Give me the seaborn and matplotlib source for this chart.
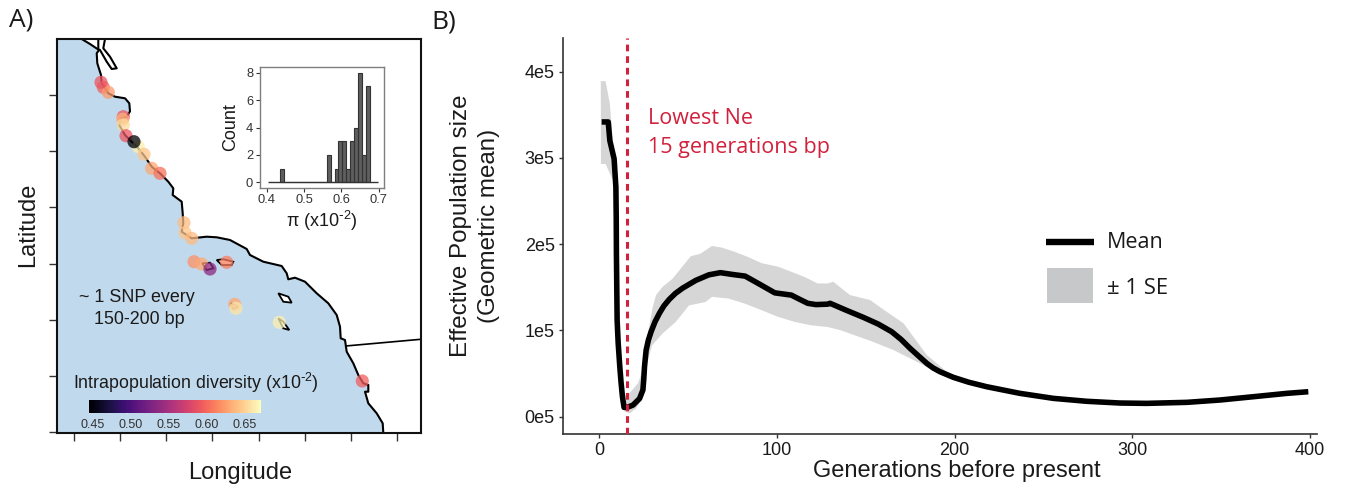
import numpy as np
import pandas as pd
import seaborn as sns
import matplotlib.pyplot as plt
from matplotlib.cm import ScalarMappable
from matplotlib.colors import Normalize
from matplotlib.lines import Line2D
from matplotlib.patches import Rectangle
from matplotlib.transforms import ScaledTranslation

sns.set_theme(style='ticks')
plt.rcParams['font.family'] = ['Liberation Sans', 'DejaVu Sans']
plt.rcParams['mathtext.default'] = 'regular'
plt.rcParams['axes.unicode_minus'] = False

W, H = 1352, 491
TEXT = '#1a1a1a'
RED = '#d2213c'

# map, in grid units from the lower left corner of the frame
coast_x = [24.7, 33, 42, 39.7, 40.3, 44, 44.7, 51.3, 58, 68, 72.3, 73, 69.7, 64.7, 62.3, 68, 76.3, 81.3,
           88, 94.7, 103, 111.3, 116.3, 115.7, 124.7, 125.7, 126.3, 124.7, 134.7, 149.7, 159.7, 173,
           189.7, 193, 206.3, 224.7, 229.7, 231.3, 238, 248, 259.7, 271.3, 279.7, 283, 283.7, 288,
           289.7, 296.3, 301.3, 306.3, 311.3, 311.3, 308, 311.3, 319.7, 325.7, 326.3]
coast_y = [394, 389, 383, 379.7, 369.7, 358, 349.7, 339.7, 336.3, 334.7, 329.7, 321.7, 316.3, 314.7, 308,
           298, 289.7, 284.7, 276.3, 266.3, 259.7, 251.3, 244.7, 238, 231.3, 219.7, 209.7, 201.3, 194.7,
           196.3, 195.7, 193, 184, 178, 171.3, 167, 159.7, 153.7, 155.3, 151.3, 139.7, 129.7, 118,
           106.3, 94.7, 93, 81.3, 69.7, 58, 49.7, 48, 41.3, 41.3, 29.7, 19.7, 9.7, 0]
bay_x = [41.3, 41.3, 43, 49.7, 54.7, 59.7, 53, 46.3, 48]
bay_y = [394, 383.7, 383, 371.3, 364, 364.7, 376.3, 384.7, 394]
border_x = [288.7, 363.7]
border_y = [87, 93.7]
islands = [
    ([159.7, 164.7, 174.7, 176.3, 166.3], [173, 168, 168, 171.3, 173.7]),
    ([145.3, 149.7, 156.3, 153], [169.7, 163, 164.7, 170.3]),
    ([221.3, 226.3, 234.7, 231.3], [139.7, 131.3, 130.3, 136.3]),
    ([221.3, 226.3, 232.3, 226.3], [114.7, 104.7, 103, 111.3]),
    ([174, 181, 176], [130, 126, 124]),
]
map_xticks = [17, 63, 109, 155, 202, 248, 294, 340]
map_yticks = [1, 57, 113, 169, 226, 282, 338]

site_x = [46.3, 51.3, 44, 66.3, 65.7, 66.3, 69, 81.3, 87, 94.7, 103, 127, 128, 134.7,
          137, 144.7, 169.7, 177.7, 179, 222.3, 305.3, 153, 77]
site_y = [345.7, 340.7, 350.7, 316.3, 313.7, 308, 297.3, 286.3, 278.7, 264.7, 259.7, 210.3,
          200.3, 194.7, 171.3, 169, 170.7, 128.7, 124.7, 110.7, 52, 164, 291.3]
site_pi = [0.60, 0.63, 0.595, 0.595, 0.64, 0.66, 0.595, 0.67, 0.65, 0.635, 0.61, 0.645, 0.65, 0.645,
           0.625, 0.635, 0.615, 0.635, 0.665, 0.67, 0.60, 0.54, 0.45]

# inset histogram
hist_pi = [0.4397, 0.5657, 0.5867, 0.5972, 0.6077, 0.6182, 0.6287, 0.6392, 0.6497, 0.6602, 0.6707]
hist_count = [1, 2, 1, 3, 3, 1, 3, 4, 8, 2, 7]

# Ne through time
gen = [1.5, 5.2, 6.1, 8.5, 9.5, 9.7, 9.8, 10.0, 10.2, 10.8, 11.7, 12.4, 13.2, 14.1, 15.8, 19.1, 22.8, 24.7, 25.2,
       25.6, 26.5, 27.8, 29.3, 31.5, 34, 36.5, 39.5, 43, 47, 54.4, 61.8, 68.3, 74.8, 82.2, 89.6, 98.9, 108.2, 112.5,
       117.4, 122, 128.6, 130, 139, 148.7, 157, 164.6, 170, 175, 180, 184.4, 188, 191.8, 199.3, 208, 218.1, 236.8,
       255.6, 274.4, 293.1, 308, 330.8, 349.4, 368, 386.9, 399]
ne_mean = [3.417, 3.417, 3.2, 2.99, 2.66, 2.3, 1.89, 1.5, 1.12, .85, .58, .4, .23, .108, .108, .135, .21, .31,
           .44, .58, .77, .89, .985, 1.1, 1.2, 1.285, 1.36, 1.43, 1.49, 1.58, 1.645, 1.67, 1.65, 1.63, 1.545, 1.436,
           1.41, 1.365, 1.315, 1.3, 1.305, 1.315, 1.235, 1.152, 1.075, .986, .895, .793, .7, .619, .565, .522, .457,
           .4, .348, .271, .213, .179, .159, .155, .167, .194, .232, .271, .29]
upper_gen = [1, 3.7, 6.1, 8.3, 9.5, 10.2, 11.7, 13.2, 15.4, 21.9, 23.2, 24.7, 27.5, 30.2, 32.1, 35.8, 41.4,
             46.9, 51.6, 57.1, 63.6, 69.2, 76.6, 84, 91.5, 100.7, 108.2, 115.6, 123, 128.6, 131.8, 141.2,
             152.5, 159, 171.3, 184.4, 199.3, 218.1, 255.6, 308, 349.4, 399]
upper_ne = [3.89, 3.89, 3.63, 3.05, 2.66, 1.12, .6, .3, .23, .386, .46, .58, .965, 1.27, 1.41, 1.506, 1.6,
            1.74, 1.86, 1.89, 1.98, 1.96, 1.91, 1.85, 1.78, 1.74, 1.68, 1.62, 1.545, 1.545, 1.565, 1.41,
            1.353, 1.257, 1.083, .715, .46, .35, .213, .155, .194, .31]
lower_gen = [1.1, 3.7, 7, 9.5, 10.2, 11.7, 13.2, 14.5, 17.3, 21, 24.7, 26.5, 29.9, 35.8, 43.2, 50.6, 59.9,
             63.6, 72.9, 82.2, 91.5, 100.7, 110, 119.3, 128.6, 135.6, 152.5, 165.7, 180.6, 188, 199.3, 218.1,
             255.6, 308, 349.4, 399]
lower_ne = [2.93, 2.93, 2.78, 2.66, 1.12, .58, .2, .06, .04, .097, .23, .58, .83, .965, 1.1, 1.29, 1.33,
            1.39, 1.37, 1.31, 1.235, 1.158, 1.1, 1.06, 1.04, 1.005, .881, .773, .619, .533, .45, .345,
            .213, .155, .194, .27]
ne_ticks = [0, 1, 2, 3, 4]
ne_labels = ['0e5', '1e5', '2e5', '3e5', '4e5']
gen_ticks = [0, 100, 200, 300, 400]
LOWEST_NE_GEN = 16


def px_axes(left, top, right, bottom, **kw):
    return fig.add_axes([left / W, 1 - bottom / H, (right - left) / W, (bottom - top) / H], **kw)


def fig_text(x, y, s, **kw):
    kw.setdefault('va', 'center')
    kw.setdefault('color', TEXT)
    return fig.text(x / W, 1 - y / H, s, **kw)


fig = plt.figure(figsize=(W / 100, H / 100), dpi=100)

# ---- panel A ----
ax = px_axes(57, 39, 421, 433)
ax.set_xlim(0, 364)
ax.set_ylim(0, 394)
ax.fill([0] + coast_x + [0], [394] + coast_y + [0], color='#c1d9ec', lw=0, zorder=1)
ax.plot(coast_x, coast_y, color='black', lw=1.5, zorder=2, solid_joinstyle='round')
ax.plot(bay_x, bay_y, color='black', lw=1.5, zorder=2)
ax.plot(border_x, border_y, color='black', lw=1.2, zorder=2)
for isl_x, isl_y in islands:
    ax.fill(isl_x, isl_y, facecolor='white', edgecolor='black', lw=1.3, zorder=2)
site_df = pd.DataFrame({'x': site_x, 'y': site_y, 'pi': site_pi})
sns.scatterplot(data=site_df, x='x', y='y', hue='pi', palette='magma', hue_norm=(0.45, 0.677),
                s=90, alpha=0.75, linewidth=0, legend=False, ax=ax, zorder=3)
ax.set_xticks(map_xticks)
ax.set_yticks(map_yticks)
ax.set_xticklabels([])
ax.set_yticklabels([])
ax.set_xlabel('')
ax.set_ylabel('')
ax.tick_params(length=6, width=1, color='#333333')
for s in ax.spines.values():
    s.set_linewidth(1.5)
    s.set_color('#111111')
fig_text(28, 225, 'Latitude', fontsize=17, rotation=90, ha='center')
fig_text(240, 473, 'Longitude', fontsize=17, ha='center')
fig_text(79, 297, '~ 1 SNP every', fontsize=12.9)
fig_text(94, 319, '150-200 bp', fontsize=12.9)
fig_text(73, 383, r'Intrapopulation diversity (x10$^{\text{-}2}$)', fontsize=12.8)
fig_text(9, 20, 'A)', fontsize=19, family='Open Sans')
fig_text(431, 22, 'B)', fontsize=19, family='Open Sans')

# colour bar
cax = px_axes(89, 400, 261, 413)
cb = fig.colorbar(ScalarMappable(norm=Normalize(0.45, 0.677), cmap='magma'), cax=cax, orientation='horizontal')
cb.set_ticks([0.45, 0.50, 0.55, 0.60, 0.65], labels=['0.45', '0.50', '0.55', '0.60', '0.65'])
cb.outline.set_visible(False)
cax.tick_params(axis='x', direction='in', length=3, width=0.8, color='white', labelsize=9,
                labelcolor='#333333', pad=4)
for lab in cax.get_xticklabels():
    lab.set_transform(lab.get_transform() + ScaledTranslation(4 / 100, 0, fig.dpi_scale_trans))

# inset histogram
ins = px_axes(259.5, 67, 383.5, 188)
sns.histplot(x=hist_pi, weights=hist_count, binwidth=0.0105, binrange=(0.4345, 0.676),
             color='#4d4d4d', edgecolor='#333333', linewidth=0.8, alpha=0.9, ax=ins)
ins.hlines(0, 0.404, 0.697, color='#333333', lw=1)
ins.set_xlim(0.38, 0.713)
ins.set_ylim(-0.41, 8.41)
ins.set_xticks([0.4, 0.5, 0.6, 0.7])
ins.set_yticks([0, 2, 4, 6, 8])
ins.set_xlabel(r'π (x10$^{\text{-}2}$)', fontsize=13, labelpad=2, color=TEXT)
ins.set_ylabel('Count', fontsize=13, labelpad=5, color=TEXT)
ins.tick_params(labelsize=9.3, length=3, width=0.8, pad=1.5, color='#333333', labelcolor='#333333')
for s in ins.spines.values():
    s.set_visible(True)
    s.set_color('#7f7f7f')
    s.set_linewidth(1)

# ---- panel B ----
bx = px_axes(563, 38, 1317, 434)
bx.set_xlim(-20.25, 403.9)
bx.set_ylim(-0.2, 4.39)
bx.fill(upper_gen + lower_gen[::-1], upper_ne + lower_ne[::-1], color='#d6d6d6', lw=0, zorder=1)
ne_df = pd.DataFrame({'gen': gen, 'ne': ne_mean})
sns.lineplot(data=ne_df, x='gen', y='ne', color='black', lw=4, estimator=None, errorbar=None,
             ax=bx, zorder=2, solid_capstyle='butt', solid_joinstyle='round')
bx.axvline(LOWEST_NE_GEN, color=RED, lw=2.2, ls=(0, (2.2, 1.6)), zorder=3)
bx.set_xticks(gen_ticks)
bx.set_yticks(ne_ticks)
bx.set_yticklabels(ne_labels)
bx.set_xlabel('')
bx.set_ylabel('')
bx.tick_params(labelsize=13, length=3, width=1, color='#333333', labelcolor=TEXT, pad=3)
sns.despine(ax=bx)
bx.spines['left'].set_color('#333333')
bx.spines['bottom'].set_color('#333333')
bx.spines['left'].set_linewidth(1.2)
bx.spines['bottom'].set_linewidth(1.2)
fig_text(957, 471, 'Generations before present', fontsize=17, ha='center')
fig_text(475, 226, 'Effective Population size\n(Geometric mean)', fontsize=17.4, rotation=90,
         ha='center', multialignment='center', linespacing=1.3)
fig_text(648, 118, 'Lowest Ne', fontsize=15.5, color=RED, family='Open Sans')
fig_text(648, 147, '15 generations bp', fontsize=15.5, color=RED, family='Open Sans')

# hand placed key, same as the reference
fig.add_artist(Line2D([1046 / W, 1094 / W], [1 - 241.7 / H] * 2, color='black', lw=4.6, solid_capstyle='butt'))
fig.add_artist(Rectangle((1047 / W, 1 - 303 / H), 46 / W, 35 / H, transform=fig.transFigure,
                         facecolor='#c7c8ca', edgecolor='none'))
fig_text(1107, 243, 'Mean', fontsize=15.5, family='Open Sans')
fig_text(1107, 288, '± 1 SE', fontsize=15.8, family='Open Sans')

plt.savefig('out.png', dpi=100)
